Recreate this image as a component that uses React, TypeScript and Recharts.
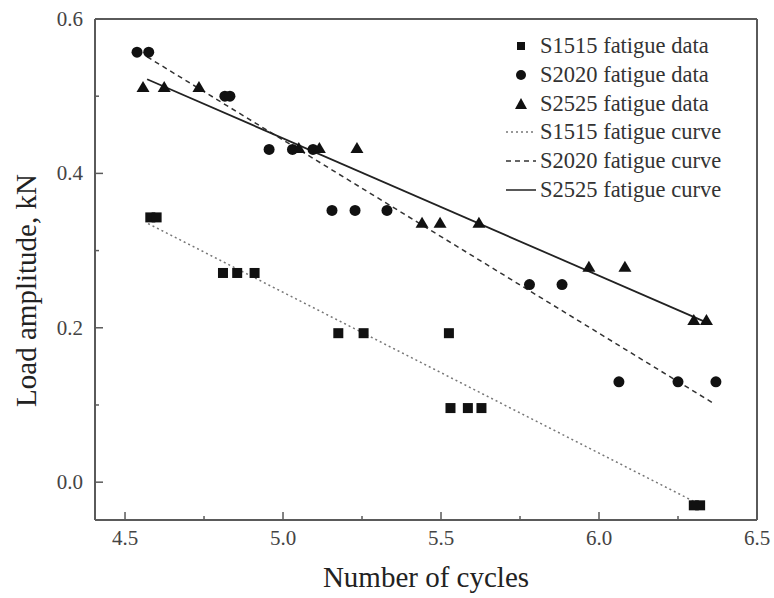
import { ScatterChart, Scatter, XAxis, YAxis, ReferenceLine } from "recharts";

// fatigue test results: log10 of cycles vs load amplitude (kN)
const s1515Cycles = [4.58, 4.6, 4.81, 4.855, 4.91, 5.175, 5.255, 5.525, 5.53, 5.585, 5.628, 6.3, 6.32];
const s1515Loads = [0.343, 0.343, 0.271, 0.271, 0.271, 0.193, 0.193, 0.193, 0.096, 0.096, 0.096, -0.03, -0.03];

const s2020Cycles = [4.538, 4.575, 4.816, 4.832, 4.956, 5.03, 5.095, 5.155, 5.228, 5.329, 5.78, 5.883, 6.063, 6.25, 6.37];
const s2020Loads = [0.557, 0.557, 0.5, 0.5, 0.431, 0.431, 0.431, 0.352, 0.352, 0.352, 0.256, 0.256, 0.13, 0.13, 0.13];

const s2525Cycles = [4.557, 4.624, 4.734, 5.05, 5.115, 5.234, 5.44, 5.497, 5.62, 5.968, 6.082, 6.3, 6.34];
const s2525Loads = [0.512, 0.512, 0.512, 0.433, 0.433, 0.433, 0.336, 0.336, 0.336, 0.279, 0.279, 0.21, 0.21];

// fitted S-N lines (end points)
const s1515FitCycles = [4.573, 6.31];
const s1515FitLoads = [0.335, -0.027];
const s2020FitCycles = [4.57, 6.367];
const s2020FitLoads = [0.551, 0.101];
const s2525FitCycles = [4.57, 6.345];
const s2525FitLoads = [0.522, 0.206];

const xDomain = [4.405, 6.5];
const yDomain = [-0.049, 0.6];
const xTicks = [4.5, 4.75, 5, 5.25, 5.5, 5.75, 6, 6.25, 6.5];
const yTicks = [0, 0.1, 0.2, 0.3, 0.4, 0.5, 0.6];
const xMajor = [4.5, 5, 5.5, 6, 6.5];
const yMajor = [0, 0.2, 0.4, 0.6];

const zip = (xs: number[], ys: number[]) => xs.map((x, i) => ({ x, y: ys[i] }));

const FONT = "Liberation Serif, Times New Roman, serif";
const INK = "#111";
const FRAME = "#5a5a5a";

const SquareDot = (p: any) => <rect x={p.cx - 5} y={p.cy - 5} width={10} height={10} fill={INK} />;
const CircleDot = (p: any) => <circle cx={p.cx} cy={p.cy} r={5.5} fill={INK} />;
const TriangleDot = (p: any) => (
  <polygon points={`${p.cx},${p.cy - 6} ${p.cx - 6.5},${p.cy + 5} ${p.cx + 6.5},${p.cy + 5}`} fill={INK} />
);
const NoDot = () => <g />;

const YTick = (p: any) => {
  const v = p.payload.value;
  const major = yMajor.some((m) => Math.abs(m - v) < 1e-9);
  const ax = p.x + 12;
  return (
    <g>
      <line x1={ax} x2={ax + (major ? 8 : 4)} y1={p.y} y2={p.y} stroke={FRAME} strokeWidth={1.5} />
      {major && (
        <text x={p.x} y={p.y + 7} textAnchor="end" fontSize={21} fontFamily={FONT} fill="#444">
          {v.toFixed(1)}
        </text>
      )}
    </g>
  );
};

const XTick = (p: any) => {
  const v = p.payload.value;
  const major = xMajor.some((m) => Math.abs(m - v) < 1e-9);
  const ay = p.y - 4;
  return (
    <g>
      <line x1={p.x} x2={p.x} y1={ay} y2={ay - (major ? 8 : 4)} stroke={FRAME} strokeWidth={1.5} />
      {major && (
        <text x={p.x} y={ay + 25} textAnchor="middle" fontSize={21} fontFamily={FONT} fill="#444">
          {v.toFixed(1)}
        </text>
      )}
    </g>
  );
};

const legendRows = [
  { name: "S1515 fatigue data", kind: "square" },
  { name: "S2020 fatigue data", kind: "circle" },
  { name: "S2525 fatigue data", kind: "triangle" },
  { name: "S1515 fatigue curve", kind: "dotted" },
  { name: "S2020 fatigue curve", kind: "dashed" },
  { name: "S2525 fatigue curve", kind: "solid" },
];

const LegendMark = ({ kind }: { kind: string }) => {
  const c = 12;
  if (kind === "square") return <rect x={15} y={c - 4} width={8} height={8} fill={INK} />;
  if (kind === "circle") return <circle cx={19} cy={c} r={5} fill={INK} />;
  if (kind === "triangle") return <polygon points={`19,${c - 6} 13,${c + 5} 25,${c + 5}`} fill={INK} />;
  const dash = kind === "dotted" ? "2 3" : kind === "dashed" ? "5 4" : undefined;
  const stroke = kind === "dotted" ? "#777" : kind === "dashed" ? "#333" : "#222";
  return <line x1={4} x2={34} y1={c} y2={c} stroke={stroke} strokeWidth={1.5} strokeDasharray={dash} />;
};

const LegendBox = () => (
  <div style={{ position: "absolute", top: 32, left: 502, fontFamily: FONT, fontSize: 22.5, color: "#333" }}>
    {legendRows.map((r) => (
      <div key={r.name} style={{ display: "flex", alignItems: "center", height: 28.7 }}>
        <svg width={38} height={24}>
          <LegendMark kind={r.kind} />
        </svg>
        <span style={{ whiteSpace: "nowrap" }}>{r.name}</span>
      </div>
    ))}
  </div>
);

const YLabel = (p: any) => {
  const vb = p.viewBox;
  const cx = vb.x + 26;
  const cy = vb.y + vb.height / 2 + 21;
  return (
    <text
      x={cx}
      y={cy}
      transform={`rotate(-90, ${cx}, ${cy})`}
      textAnchor="middle"
      dominantBaseline="central"
      fontSize={29}
      fontFamily={FONT}
      fill="#222"
    >
      Load amplitude, kN
    </text>
  );
};

const XLabel = (p: any) => {
  const vb = p.viewBox;
  return (
    <text x={vb.x + vb.width / 2} y={vb.y + 67} textAnchor="middle" fontSize={29} fontFamily={FONT} fill="#222">
      Number of cycles
    </text>
  );
};

export default function App() {
  return (
    <div style={{ position: "absolute", top: 0, left: 0, width: 774, height: 598, overflow: "hidden", background: "#fff" }}>
      <ScatterChart width={774} height={598} margin={{ top: 19, right: 17, bottom: 0, left: 0 }}>
        <XAxis
          type="number"
          dataKey="x"
          domain={xDomain}
          allowDataOverflow
          ticks={xTicks}
          interval={0}
          height={78}
          tickSize={0}
          tickMargin={4}
          tickLine={false}
          tick={<XTick />}
          stroke={FRAME}
          strokeWidth={2}
          label={<XLabel />}
        />
        <YAxis
          type="number"
          dataKey="y"
          domain={yDomain}
          allowDataOverflow
          ticks={yTicks}
          interval={0}
          width={95}
          tickSize={0}
          tickMargin={12}
          tickLine={false}
          tick={<YTick />}
          stroke={FRAME}
          strokeWidth={2}
          label={<YLabel />}
        />
        {/* closing frame on the top and right edges */}
        <ReferenceLine y={yDomain[1]} stroke={FRAME} strokeWidth={2} />
        <ReferenceLine x={xDomain[1]} stroke={FRAME} strokeWidth={2} />
        <Scatter
          name="S1515 fatigue curve"
          data={zip(s1515FitCycles, s1515FitLoads)}
          line={{ stroke: "#777", strokeWidth: 1.5, strokeDasharray: "2 3" }}
          lineType="joint"
          shape={<NoDot />}
          isAnimationActive={false}
        />
        <Scatter
          name="S2020 fatigue curve"
          data={zip(s2020FitCycles, s2020FitLoads)}
          line={{ stroke: "#333", strokeWidth: 1.5, strokeDasharray: "5 4" }}
          lineType="joint"
          shape={<NoDot />}
          isAnimationActive={false}
        />
        <Scatter
          name="S2525 fatigue curve"
          data={zip(s2525FitCycles, s2525FitLoads)}
          line={{ stroke: "#222", strokeWidth: 1.8 }}
          lineType="joint"
          shape={<NoDot />}
          isAnimationActive={false}
        />
        <Scatter
          name="S1515 fatigue data"
          data={zip(s1515Cycles, s1515Loads)}
          shape={<SquareDot />}
          isAnimationActive={false}
        />
        <Scatter
          name="S2020 fatigue data"
          data={zip(s2020Cycles, s2020Loads)}
          shape={<CircleDot />}
          isAnimationActive={false}
        />
        <Scatter
          name="S2525 fatigue data"
          data={zip(s2525Cycles, s2525Loads)}
          shape={<TriangleDot />}
          isAnimationActive={false}
        />
      </ScatterChart>
      <LegendBox />
    </div>
  );
}
